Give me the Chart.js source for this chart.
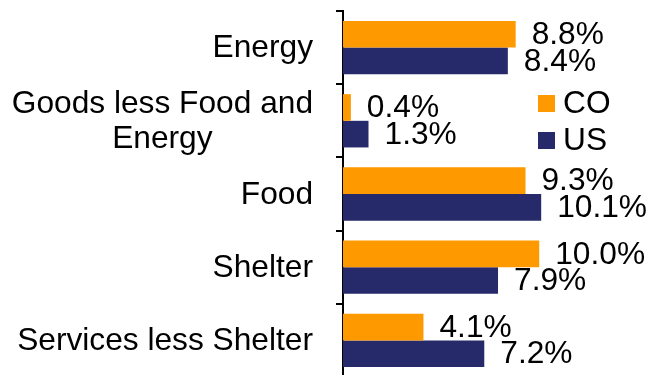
<!DOCTYPE html>
<html>
<head>
<meta charset="utf-8">
<script src="https://cdn.jsdelivr.net/npm/chart.js@4"></script>
<style>
  html, body { margin: 0; padding: 0; background: #fff; overflow: hidden; }
  #wrap { width: 655px; height: 375px; overflow: hidden; }
</style>
</head>
<body>
<div id="wrap"><canvas id="chart" width="655" height="378"></canvas></div>
<script>
// chart data
const categories = ['Energy', ['Goods less Food and', 'Energy'], 'Food', 'Shelter', 'Services less Shelter'];
const seriesNames = ['CO', 'US'];
const coValues = [8.8, 0.4, 9.3, 10.0, 4.1];
const usValues = [8.4, 1.3, 10.1, 7.9, 7.2];
const colors = ['#FF9900', '#272A6A'];

const FONT = '31.7px "Liberation Sans", Arial, sans-serif';

// value labels at the end of each bar
const valueLabels = {
  id: 'valueLabels',
  afterDatasetsDraw(chart) {
    const ctx = chart.ctx;
    ctx.save();
    ctx.font = FONT;
    ctx.fillStyle = '#000';
    ctx.textAlign = 'left';
    ctx.textBaseline = 'middle';
    chart.data.datasets.forEach((ds, i) => {
      chart.getDatasetMeta(i).data.forEach((bar, j) => {
        ctx.fillText(ds.data[j].toFixed(1) + '%', bar.x + 16, bar.y + 1);
      });
    });
    ctx.restore();
  }
};

// category labels, multi-line ones centred within their block
const catLabels = {
  id: 'catLabels',
  afterDraw(chart) {
    const ctx = chart.ctx;
    const y = chart.scales.y;
    const right = 313;
    const lineH = 35;
    ctx.save();
    ctx.font = FONT;
    ctx.fillStyle = '#000';
    ctx.textBaseline = 'middle';
    ctx.textAlign = 'center';
    chart.data.labels.forEach((lab, i) => {
      const lines = Array.isArray(lab) ? lab : [lab];
      const w = Math.max(...lines.map(l => ctx.measureText(l).width));
      const cx = right - w / 2;
      const cy = y.getPixelForTick(i) + 1;
      lines.forEach((l, k) => {
        ctx.fillText(l, cx, cy + (k - (lines.length - 1) / 2) * lineH);
      });
    });
    ctx.restore();
  }
};

// legend box in the chart area
const sideLegend = {
  id: 'sideLegend',
  afterDraw(chart) {
    const ctx = chart.ctx;
    ctx.save();
    ctx.font = FONT;
    ctx.textBaseline = 'middle';
    ctx.textAlign = 'left';
    chart.data.datasets.forEach((ds, i) => {
      const top = 95 + i * 37;
      ctx.fillStyle = ds.backgroundColor;
      ctx.fillRect(538, top, 17, 17);
      ctx.fillStyle = '#000';
      ctx.fillText(ds.label, 563, top + 9);
    });
    ctx.restore();
  }
};

new Chart(document.getElementById('chart'), {
  type: 'bar',
  data: {
    labels: categories,
    datasets: [
      { label: seriesNames[0], data: coValues, backgroundColor: colors[0] },
      { label: seriesNames[1], data: usValues, backgroundColor: colors[1] }
    ]
  },
  options: {
    indexAxis: 'y',
    responsive: false,
    animation: false,
    devicePixelRatio: 1,
    layout: { padding: { top: 11, right: 0, bottom: 1, left: 0 } },
    datasets: { bar: { categoryPercentage: 0.728, barPercentage: 1 } },
    plugins: { legend: { display: false }, tooltip: { enabled: false } },
    scales: {
      x: { display: false, min: 0, max: 15.9 },
      y: {
        afterFit(scale) { scale.width = 343; },
        border: { display: true, color: '#000', width: 2 },
        grid: { drawOnChartArea: false, offset: true, tickLength: 7, color: '#000', lineWidth: 2 },
        ticks: { display: false }
      }
    }
  },
  plugins: [valueLabels, catLabels, sideLegend]
});
</script>
</body>
</html>
